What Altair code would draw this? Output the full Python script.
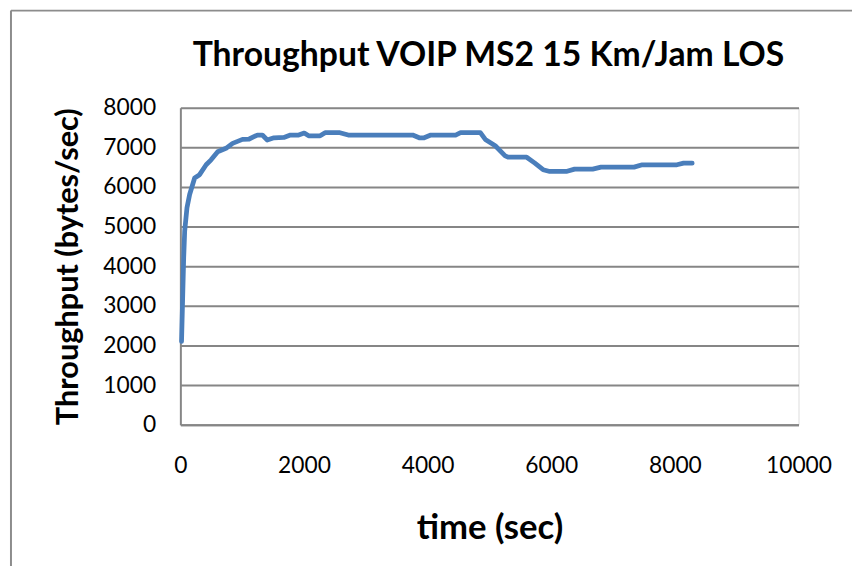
import altair as alt
import pandas as pd

# Data
time_sec = [19, 54, 70, 107, 150, 231, 311, 417, 497, 604, 738, 845, 1005, 1113,
            1246, 1326, 1406, 1514, 1674, 1780, 1914, 2004, 2075, 2261, 2341, 2581,
            2716, 3758, 3864, 3944, 4052, 4452, 4533, 4853, 4933, 5094, 5254, 5307,
            5602, 5735, 5868, 5976, 6243, 6377, 6670, 6805, 7339, 7472, 8033, 8140, 8280]
throughput = [2100, 4225, 4890, 5475, 5810, 6225, 6310, 6560, 6685, 6890, 6975, 7100, 7200, 7210,
              7310, 7310, 7185, 7240, 7250, 7310, 7310, 7360, 7290, 7290, 7370, 7370,
              7310, 7310, 7240, 7240, 7310, 7310, 7370, 7370, 7200, 7040, 6785, 6750,
              6750, 6600, 6435, 6390, 6390, 6450, 6450, 6500, 6500, 6560, 6560, 6600, 6600]
x_ticks = [0, 2000, 4000, 6000, 8000, 10000]
y_ticks = [0, 1000, 2000, 3000, 4000, 5000, 6000, 7000, 8000]
chart_title = ["Throughput VOIP MS2 15 Km/Jam LOS"]

df = pd.DataFrame({"time": time_sec, "throughput": throughput})
FONT = "Lato"
GRID = "#868686"

line = alt.Chart(df).mark_line(
    color="#4A7EBB", strokeWidth=4.8, strokeCap="round", strokeJoin="round"
).encode(
    x=alt.X("time:Q", scale=alt.Scale(domain=[0, 10000], nice=False),
            axis=alt.Axis(values=x_ticks, format="d", grid=False, ticks=False, domain=True,
                          domainColor=GRID, domainWidth=2, labelFontSize=23,
                          labelPadding=30, labelFont=FONT, labelColor="#000000",
                          labelFlush=False, labelOverlap=False,
                          title="time (sec)", titleFont=FONT, titleFontSize=35,
                          titleFontWeight="bold", titlePadding=34, titleColor="#000000")),
    y=alt.Y("throughput:Q", scale=alt.Scale(domain=[0, 8000], nice=False),
            axis=alt.Axis(values=y_ticks, format="d", grid=True, gridColor=GRID, gridWidth=2,
                          ticks=False, domain=True, domainColor=GRID, domainWidth=2,
                          labelFontSize=23, labelPadding=25, labelFont=FONT,
                          labelColor="#000000", labelFlush=False, labelOverlap=False,
                          title="Throughput (bytes/sec)", titleFont=FONT, titleFontSize=31,
                          titleFontWeight="bold", titlePadding=18, titleColor="#000000")),
)

one = pd.DataFrame({"a": [0]})
frame_left = alt.Chart(one).mark_rule(color="#8c8c8c", strokeWidth=2).encode(
    x=alt.value(-171), y=alt.value(-98), y2=alt.value(600))
frame_top = alt.Chart(one).mark_rule(color="#8c8c8c", strokeWidth=2).encode(
    x=alt.value(-171), x2=alt.value(700), y=alt.value(-98))

title_df = pd.DataFrame({"t": chart_title})
title = alt.Chart(title_df).mark_text(
    font=FONT, fontSize=34, fontWeight="bold", color="#000000",
    align="center", baseline="alphabetic"
).encode(text="t:N", x=alt.value(311), y=alt.value(-42))

chart = alt.layer(frame_left, frame_top, line, title).properties(
    width=624, height=320,
    padding={"left": 174, "top": 98, "right": 54, "bottom": 140},
    autosize=alt.AutoSizeParams(type="none"),
).configure_view(stroke=None).configure(background="#ffffff")

chart.save("out.html", embed_options={"renderer": "svg", "actions": False})
